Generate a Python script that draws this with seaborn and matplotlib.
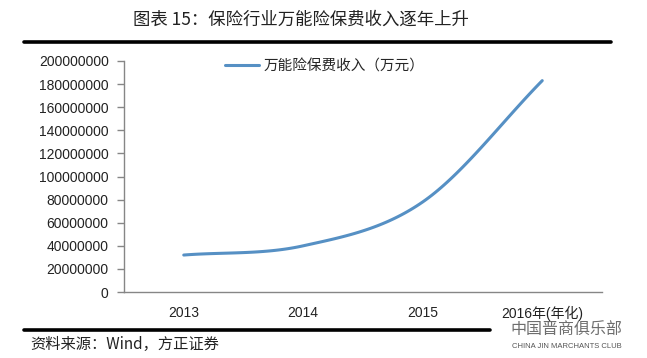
import numpy as np
import pandas as pd
import matplotlib
matplotlib.use("Agg")
import matplotlib.pyplot as plt
import seaborn as sns
from matplotlib.lines import Line2D

# ---- data ----
categories = ["2013", "2014", "2015", "2016年(年化)"]
premium = [32000000, 40000000, 78000000, 183000000]
yticks = list(range(0, 200000001, 20000000))
series_name = "万能险保费收入（万元）"
title = "图表 15：保险行业万能险保费收入逐年上升"
source = "资料来源：Wind，方正证券"

sns.set_theme(style="white")
plt.rcParams['font.family'] = ['Noto Sans CJK SC', 'DejaVu Sans']

CJK = ['Noto Sans CJK SC', 'DejaVu Sans']
NUM = ['Liberation Sans', 'DejaVu Sans']
color = "#5690c4"
grey = "#868686"

fig = plt.figure(figsize=(6.47, 3.58), dpi=100)
ax = fig.add_axes([124/647, 1-292/358, (602-124)/647, (292-61)/358])

df = pd.DataFrame({"x": np.arange(len(categories)), "y": premium})

# smooth (Excel-style) rendering of the line through the data points
xs = df["x"].to_numpy(dtype=float)
ys = df["y"].to_numpy(dtype=float)
px = np.concatenate([[2*xs[0]-xs[1]], xs, [2*xs[-1]-xs[-2]]])
py = np.concatenate([[2*ys[0]-ys[1]], ys, [2*ys[-1]-ys[-2]]])
cx, cy = [], []
t = np.linspace(0, 1, 40)
for i in range(1, len(px)-2):
    p0, p1, p2, p3 = i-1, i, i+1, i+2
    for arr, out in ((px, cx), (py, cy)):
        a = arr[p1]; b = arr[p1] + (arr[p2]-arr[p0])/6
        c = arr[p2] - (arr[p3]-arr[p1])/6; d = arr[p2]
        out.extend((1-t)**3*a + 3*(1-t)**2*t*b + 3*(1-t)*t**2*c + t**3*d)
smooth = pd.DataFrame({"x": cx, "y": cy, "s": series_name})
sns.lineplot(data=smooth, x="x", y="y", sort=False, color=color, linewidth=2.2,
             ax=ax, label=series_name, solid_capstyle='round')

ax.set_xlim(-0.5, len(categories)-0.5)
ax.set_ylim(0, 200000000)
ax.set_yticks(yticks)
ax.set_yticklabels([str(v) for v in yticks], fontfamily=NUM, fontsize=10, color="#222222")
ax.set_xticks(df["x"])
ax.set_xticklabels(categories, fontsize=10, color="#222222", family=NUM + ['Noto Sans CJK SC'])
ax.set_xticks(np.arange(-0.5, len(categories), 1.0), minor=True)
ax.tick_params(axis='x', which='major', length=0, pad=10)
ax.tick_params(axis='x', which='minor', length=4, color=grey, width=1, direction='out')
ax.tick_params(axis='y', length=5, color=grey, width=1, direction='out', left=True, pad=6)
ax.set_xlabel("")
ax.set_ylabel("")
for s in ["top", "right"]:
    ax.spines[s].set_visible(False)
for s in ["left", "bottom"]:
    ax.spines[s].set_color(grey)
    ax.spines[s].set_linewidth(1)
ax.grid(False)

leg = ax.legend(loc="upper left", bbox_to_anchor=(218/647, 1-52/358),
                bbox_transform=fig.transFigure, frameon=False,
                handlelength=2.3, handletextpad=0.3, borderpad=0,
                prop={'family': CJK, 'size': 10.5})

# title and rules
fig.text(133/647, 1-20/358, title, fontsize=12.5, family=CJK, va='center', ha='left', color="#222222")
fig.add_artist(Line2D([24/647, 611/647], [1-41.5/358, 1-41.5/358], color='black', linewidth=2.6))
fig.add_artist(Line2D([24/647, 490/647], [1-330/358, 1-330/358], color='black', linewidth=2.6))
fig.text(30/647, 1-344/358, source, fontsize=11, family=CJK, style='italic', va='center', ha='left', color="#222222")

# watermark
fig.text(510/647, 1-329/358, "中国晋商俱乐部", fontsize=11.5, family=CJK, va='center', ha='left', color="#555555", alpha=0.85)
fig.text(512/647, 1-346/358, "CHINA JIN MARCHANTS CLUB", fontsize=5.5, family=NUM, va='center', ha='left', color="#555555")

fig.savefig("out.png", dpi=100)
